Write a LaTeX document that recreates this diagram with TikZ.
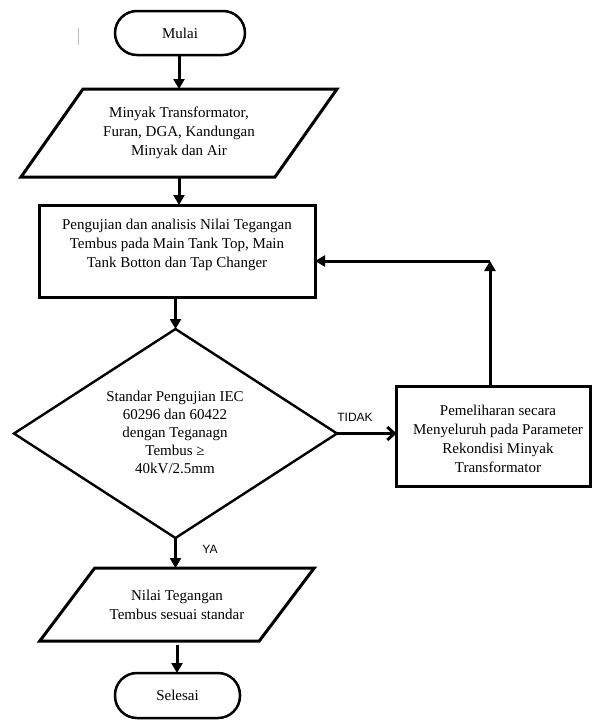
\documentclass[tikz,border=0pt]{standalone}
\usepackage{fontspec}
\setmainfont{Liberation Serif}
\newfontfamily\labelfont{Liberation Sans}
\usetikzlibrary{arrows.meta,shapes.geometric,calc}
\begin{document}
\begin{tikzpicture}[x=1pt,y=-1pt,
  every node/.style={inner sep=0pt, outer sep=0pt},
  txt/.style={font=\fontsize{15}{19}\selectfont, align=center},
  lbl/.style={font=\labelfont\fontsize{12}{14}\selectfont},
  term/.style={draw, line width=2.5pt, rounded corners=22pt, txt},
  box/.style={draw, line width=3pt},
  shapeline/.style={line width=3pt, line join=miter},
  flow/.style={line width=3pt, -{Triangle[length=10pt,width=11pt]}},
  barb/.style={line width=3pt, -{Straight Barb[length=7pt,width=13pt,line width=3pt]}}
]
\useasboundingbox (0,0) rectangle (592,720);
\fill[white] (0,0) rectangle (592,720);

% stray mark
\draw[gray!50, line width=1pt] (78,28) -- (78,45);

% start
\node[term, minimum width=130pt, minimum height=44pt] (mulai) at (180,33) {Mulai};

% input parallelogram
\node[txt, minimum width=254pt, minimum height=88pt] (in1) at (179,133)
  {Minyak Transformator,\\Furan, DGA, Kandungan\\Minyak dan Air};
\draw[shapeline] ($(in1.south west)+(-31,0)$) -- ($(in1.south east)+(-31,0)$)
  -- ($(in1.north east)+(31,0)$) -- ($(in1.north west)+(31,0)$) -- cycle;

% process box
\node[box, minimum width=276pt, minimum height=92pt] (proc) at (177,251) {};
\node[txt] (proctext) at (177,245)
  {Pengujian dan analisis Nilai Tegangan\\Tembus pada Main Tank Top, Main\\Tank Botton dan Tap Changer};

% decision
\node[draw, diamond, line width=2.4pt, minimum width=323pt, minimum height=209pt] (dia) at (175.5,433.5) {};
\node[txt, font=\fontsize{15}{18}\selectfont] (diatext) at (175,432)
  {Standar Pengujian IEC\\60296 dan 60422\\dengan Teganagn\\Tembus ≥\\40kV/2.5mm};

% maintenance box
\node[box, minimum width=194pt, minimum height=100pt] (maint) at (493.5,436) {};
\node[txt] (mtext) at (498,439)
  {Pemeliharan secara\\Menyeluruh pada Parameter\\Rekondisi Minyak\\Transformator};

% output parallelogram
\node[txt, minimum width=219.5pt, minimum height=73pt] (in2) at (177,604.5)
  {Nilai Tegangan\\Tembus sesuai standar};
\draw[shapeline] ($(in2.south west)+(-27.5,0)$) -- ($(in2.south east)+(-27.5,0)$)
  -- ($(in2.north east)+(27.5,0)$) -- ($(in2.north west)+(27.5,0)$) -- cycle;

% end
\node[term, minimum width=125pt, minimum height=45pt] (sel) at (177.5,695.5) {Selesai};

% labels
\node[lbl] (tidak) at (355,417) {TIDAK};
\node[lbl] (ya) at (210,549) {YA};

% connectors
\draw[flow] (mulai.south -| in1.north) -- (in1.north);
\draw[flow] (in1.south) -- (in1.south |- proc.north);
\draw[flow] (proc.south -| dia.north) -- (dia.north);
\draw[flow] (dia.south) -- (dia.south |- in2.north);
\draw[flow, shorten <=4pt] (in2.south) -- (in2.south |- sel.north);
\draw[barb] (dia.east) -- (maint.west |- dia.east);
\coordinate (corner) at (490,261);
\draw[flow] (maint.north -| corner) -- (corner);
\draw[flow] (corner) -- (corner -| proc.east);
\end{tikzpicture}
\end{document}
